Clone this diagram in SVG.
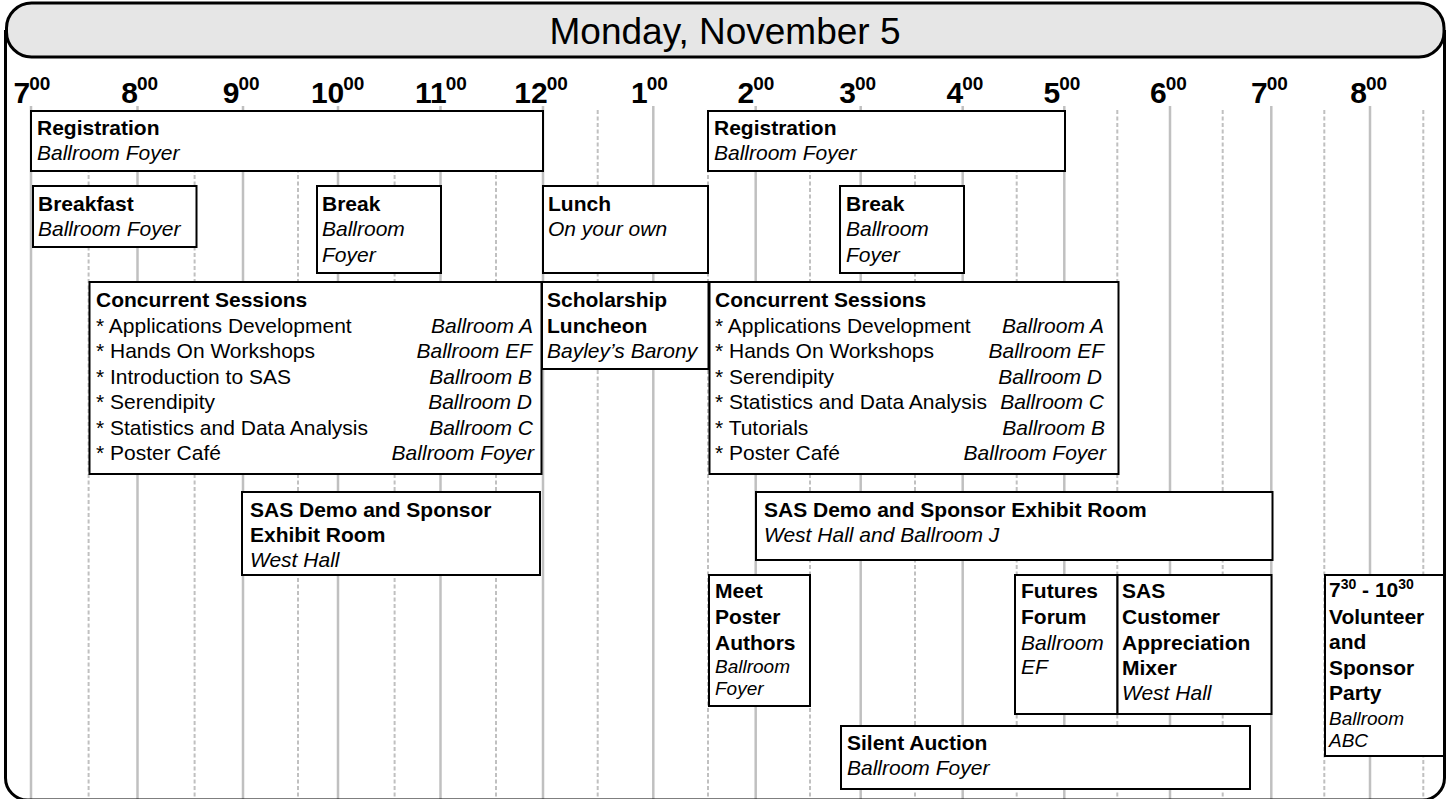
<svg xmlns="http://www.w3.org/2000/svg" width="1450" height="799" viewBox="0 0 1450 799">
<style>
text{font-family:"Liberation Sans",Arial,sans-serif;fill:#000}
.hr{stroke:#c0c0c0;stroke-width:2.5}
.hh{stroke:#c0c0c0;stroke-width:2;stroke-dasharray:4 2.5}
.box{fill:#fff;stroke:#000;stroke-width:2}
.b{font-weight:bold;font-size:21px}
.i{font-style:italic;font-size:21px}
.r{font-size:21px}
.si{font-style:italic;font-size:19px}
.d{font-weight:bold;font-size:30px;text-anchor:end}
.s{font-weight:bold;font-size:19px}
.e{text-anchor:end}
</style>
<rect x="0" y="0" width="1450" height="799" fill="#fff"/>
<g id="grid">
<g class="hr">
<line x1="31" y1="106" x2="31" y2="799"/>
<line x1="137.5" y1="106" x2="137.5" y2="799"/>
<line x1="243" y1="106" x2="243" y2="799"/>
<line x1="338" y1="106" x2="338" y2="799"/>
<line x1="440.5" y1="106" x2="440.5" y2="799"/>
<line x1="543" y1="106" x2="543" y2="799"/>
<line x1="653.3" y1="106" x2="653.3" y2="799"/>
<line x1="755.7" y1="106" x2="755.7" y2="799"/>
<line x1="860.7" y1="106" x2="860.7" y2="799"/>
<line x1="962.7" y1="106" x2="962.7" y2="799"/>
<line x1="1064.3" y1="106" x2="1064.3" y2="799"/>
<line x1="1170" y1="106" x2="1170" y2="799"/>
<line x1="1271.3" y1="106" x2="1271.3" y2="799"/>
<line x1="1370" y1="106" x2="1370" y2="799"/>
</g>
<g class="hh">
<line x1="88.6" y1="110" x2="88.6" y2="799"/>
<line x1="194.6" y1="110" x2="194.6" y2="799"/>
<line x1="298" y1="110" x2="298" y2="799"/>
<line x1="394.6" y1="110" x2="394.6" y2="799"/>
<line x1="496" y1="110" x2="496" y2="799"/>
<line x1="597.7" y1="110" x2="597.7" y2="799"/>
<line x1="708" y1="110" x2="708" y2="799"/>
<line x1="810" y1="110" x2="810" y2="799"/>
<line x1="915" y1="110" x2="915" y2="799"/>
<line x1="1016.7" y1="110" x2="1016.7" y2="799"/>
<line x1="1117.3" y1="110" x2="1117.3" y2="799"/>
<line x1="1222.7" y1="110" x2="1222.7" y2="799"/>
<line x1="1324.3" y1="110" x2="1324.3" y2="799"/>
<line x1="1423.3" y1="110" x2="1423.3" y2="799"/>
</g>
</g>
<g id="frame">
<path d="M5.5,30 V778 A22,22 0 0 0 27.5,800 H1422.5 A22,22 0 0 0 1444.5,778 V30" fill="none" stroke="#000" stroke-width="3"/>
</g>
<g id="header">
<rect x="6.5" y="3" width="1437.5" height="54" rx="25" ry="25" fill="#e6e6e6" stroke="#000" stroke-width="3"/>
<text x="725" y="44" font-size="37" text-anchor="middle">Monday, November 5</text>
</g>
<g id="times">
<text class="d" x="30.3" y="102.5">7</text><text class="s" x="29.3" y="90">00</text>
<text class="d" x="138" y="102.5">8</text><text class="s" x="137" y="90">00</text>
<text class="d" x="239.5" y="102.5">9</text><text class="s" x="238.5" y="90">00</text>
<text class="d" x="344.3" y="102.5">10</text><text class="s" x="343.3" y="90">00</text>
<text class="d" x="446.7" y="102.5">11</text><text class="s" x="445.7" y="90">00</text>
<text class="d" x="547.7" y="102.5">12</text><text class="s" x="546.7" y="90">00</text>
<text class="d" x="647.7" y="102.5">1</text><text class="s" x="646.7" y="90">00</text>
<text class="d" x="754.3" y="102.5">2</text><text class="s" x="753.3" y="90">00</text>
<text class="d" x="856" y="102.5">3</text><text class="s" x="855" y="90">00</text>
<text class="d" x="963.3" y="102.5">4</text><text class="s" x="962.3" y="90">00</text>
<text class="d" x="1060.3" y="102.5">5</text><text class="s" x="1059.3" y="90">00</text>
<text class="d" x="1166.7" y="102.5">6</text><text class="s" x="1165.7" y="90">00</text>
<text class="d" x="1267.7" y="102.5">7</text><text class="s" x="1266.7" y="90">00</text>
<text class="d" x="1367" y="102.5">8</text><text class="s" x="1366" y="90">00</text>
</g>
<g id="registration-am">
<rect class="box" x="31" y="111" width="512" height="60"/>
<text class="b" x="37" y="135">Registration</text>
<text class="i" x="37" y="160">Ballroom Foyer</text>
</g>
<g id="registration-pm">
<rect class="box" x="708" y="111" width="357" height="60"/>
<text class="b" x="714" y="135">Registration</text>
<text class="i" x="714" y="160">Ballroom Foyer</text>
</g>
<g id="breakfast">
<rect class="box" x="33" y="186" width="163.5" height="61"/>
<text class="b" x="38" y="211">Breakfast</text>
<text class="i" x="38" y="236">Ballroom Foyer</text>
</g>
<g id="break-am">
<rect class="box" x="317" y="186" width="124" height="87"/>
<text class="b" x="322" y="211">Break</text>
<text class="i" x="322" y="236">Ballroom</text>
<text class="i" x="322" y="262">Foyer</text>
</g>
<g id="lunch">
<rect class="box" x="543" y="186" width="165" height="87"/>
<text class="b" x="548" y="211">Lunch</text>
<text class="i" x="548" y="236">On your own</text>
</g>
<g id="break-pm">
<rect class="box" x="840" y="186" width="124" height="87"/>
<text class="b" x="846" y="211">Break</text>
<text class="i" x="846" y="236">Ballroom</text>
<text class="i" x="846" y="262">Foyer</text>
</g>
<g id="concurrent-am">
<rect class="box" x="89.5" y="282" width="452" height="192"/>
<text class="b" x="96" y="307">Concurrent Sessions</text>
<text class="r" x="96" y="332.5">* Applications Development</text>
<text class="r" x="96" y="358">* Hands On Workshops</text>
<text class="r" x="96" y="383.5">* Introduction to SAS</text>
<text class="r" x="96" y="409">* Serendipity</text>
<text class="r" x="96" y="434.5">* Statistics and Data Analysis</text>
<text class="r" x="96" y="460">* Poster Café</text>
<text class="i e" x="533" y="332.5">Ballroom A</text>
<text class="i e" x="532" y="358">Ballroom EF</text>
<text class="i e" x="532" y="383.5">Ballroom B</text>
<text class="i e" x="532" y="409">Ballroom D</text>
<text class="i e" x="533" y="434.5">Ballroom C</text>
<text class="i e" x="534" y="460">Ballroom Foyer</text>
</g>
<g id="scholarship-luncheon">
<rect class="box" x="542" y="282" width="166.5" height="87"/>
<text class="b" x="547" y="307">Scholarship</text>
<text class="b" x="547" y="332.5">Luncheon</text>
<text class="i" x="547" y="358">Bayley’s Barony</text>
</g>
<g id="concurrent-pm">
<rect class="box" x="709.5" y="282" width="409" height="192"/>
<text class="b" x="715" y="307">Concurrent Sessions</text>
<text class="r" x="715" y="332.5">* Applications Development</text>
<text class="r" x="715" y="358">* Hands On Workshops</text>
<text class="r" x="715" y="383.5">* Serendipity</text>
<text class="r" x="715" y="409">* Statistics and Data Analysis</text>
<text class="r" x="715" y="434.5">* Tutorials</text>
<text class="r" x="715" y="460">* Poster Café</text>
<text class="i e" x="1104" y="332.5">Ballroom A</text>
<text class="i e" x="1104" y="358">Ballroom EF</text>
<text class="i e" x="1102" y="383.5">Ballroom D</text>
<text class="i e" x="1104" y="409">Ballroom C</text>
<text class="i e" x="1105" y="434.5">Ballroom B</text>
<text class="i e" x="1106" y="460">Ballroom Foyer</text>
</g>
<g id="sas-demo-am">
<rect class="box" x="242" y="492" width="298" height="83"/>
<text class="b" x="250" y="517">SAS Demo and Sponsor</text>
<text class="b" x="250" y="542">Exhibit Room</text>
<text class="i" x="250" y="567">West Hall</text>
</g>
<g id="sas-demo-pm">
<rect class="box" x="756" y="492" width="516.5" height="68"/>
<text class="b" x="764" y="517">SAS Demo and Sponsor Exhibit Room</text>
<text class="i" x="764" y="542">West Hall and Ballroom J</text>
</g>
<g id="meet-poster-authors">
<rect class="box" x="709" y="575" width="101" height="131"/>
<text class="b" x="715" y="598">Meet</text>
<text class="b" x="715" y="624">Poster</text>
<text class="b" x="715" y="650">Authors</text>
<text class="si" x="715" y="673">Ballroom</text>
<text class="si" x="715" y="695">Foyer</text>
</g>
<g id="futures-forum">
<rect class="box" x="1015" y="575" width="102.5" height="139"/>
<text class="b" x="1021" y="598">Futures</text>
<text class="b" x="1021" y="624">Forum</text>
<text class="i" x="1021" y="650">Ballroom</text>
<text class="i" x="1021" y="674">EF</text>
</g>
<g id="customer-appreciation-mixer">
<rect class="box" x="1117.5" y="575" width="154" height="139"/>
<text class="b" x="1122" y="598">SAS</text>
<text class="b" x="1122" y="624">Customer</text>
<text class="b" x="1122" y="650">Appreciation</text>
<text class="b" x="1122" y="675">Mixer</text>
<text class="i" x="1122" y="700">West Hall</text>
</g>
<g id="silent-auction">
<rect class="box" x="841" y="726" width="409" height="63"/>
<text class="b" x="847" y="750">Silent Auction</text>
<text class="i" x="847" y="775">Ballroom Foyer</text>
</g>
<g id="volunteer-party">
<rect class="box" x="1325" y="575" width="119" height="181"/>
<text class="b" x="1329" y="597">7<tspan font-size="14" dy="-8">30</tspan><tspan dy="8"> - 10</tspan><tspan font-size="14" dy="-8">30</tspan></text>
<text class="b" x="1329" y="624">Volunteer</text>
<text class="b" x="1329" y="649">and</text>
<text class="b" x="1329" y="675">Sponsor</text>
<text class="b" x="1329" y="700">Party</text>
<text class="si" x="1329" y="725">Ballroom</text>
<text class="si" x="1329" y="747">ABC</text>
</g>
</svg>
